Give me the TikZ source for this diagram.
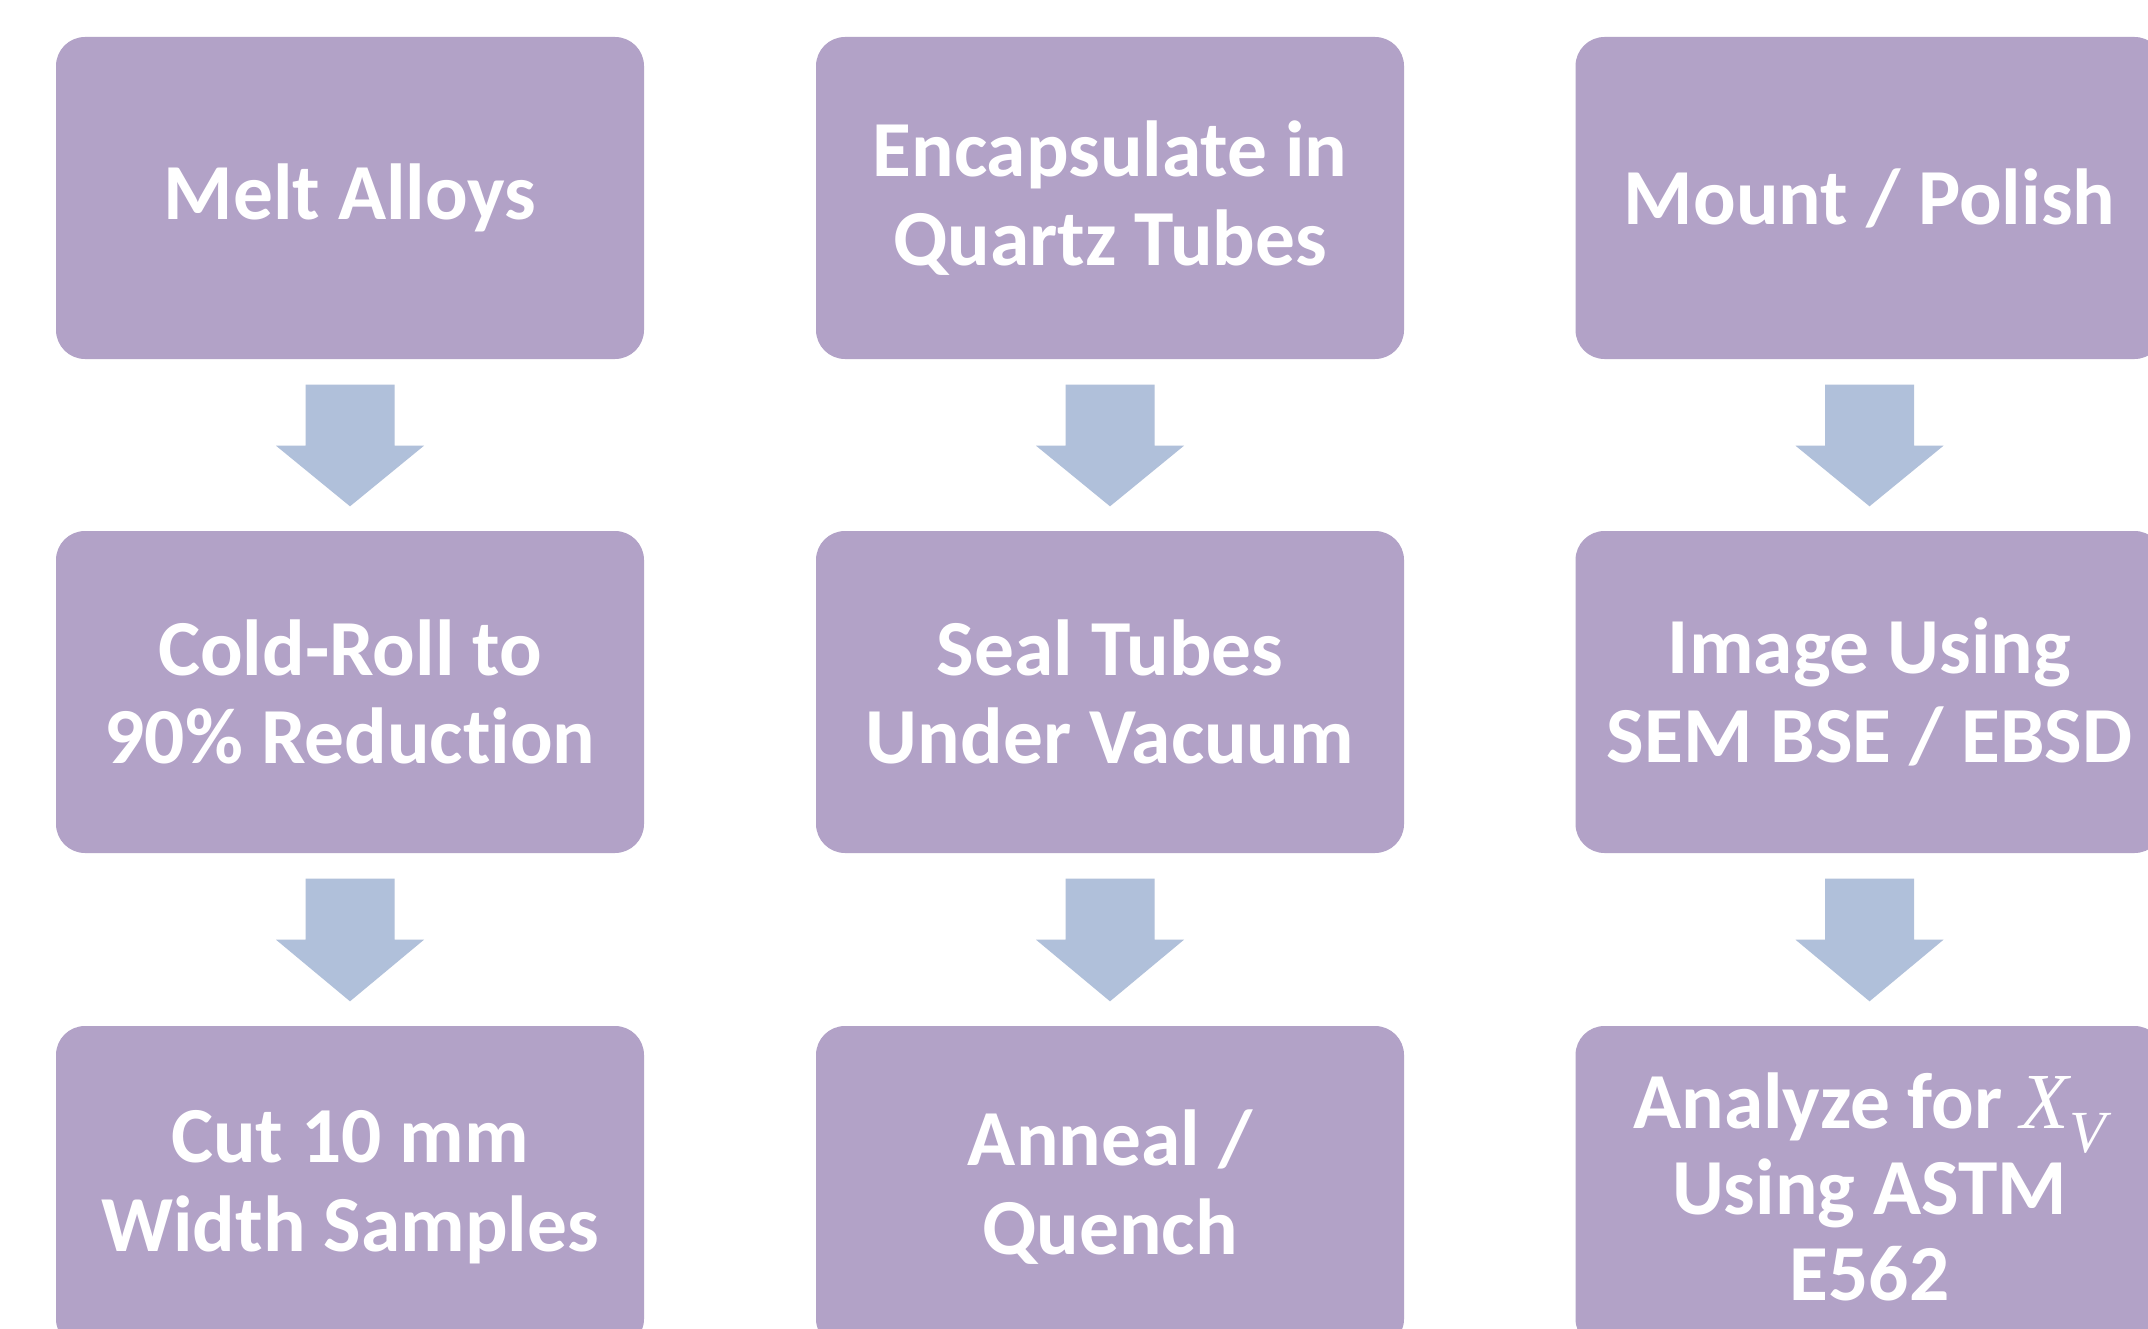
\documentclass[tikz,border=0pt]{standalone}
\usepackage{fontspec}
\setmainfont{Carlito}[RawFeature={-liga;-clig;-dlig;-calt}]
\newfontfamily\serifit{Liberation Serif}[ItalicFont={* Italic}]
\usetikzlibrary{calc}
\definecolor{boxpurple}{HTML}{B2A2C7}
\definecolor{arrowblue}{HTML}{B0C0DA}
\tikzset{
  stepbox/.style={rounded corners=0.29cm, fill=boxpurple, draw=none,
    minimum width=5.88cm, minimum height=3.22cm, inner sep=0pt,
    text=white, align=center, font=\fontsize{22.6}{25.2}\selectfont\bfseries},
  blockarrow/.style={fill=arrowblue, draw=none}
}
\newcommand{\downblock}[2]{%
  \fill[blockarrow] ($(#1.south)+(-0.445,-0.25)$) -- ($(#1.south)+(0.445,-0.25)$)
    -- ($(#1.south)+(0.445,-0.86)$) -- ($(#1.south)+(0.74,-0.86)$)
    -- ($(#2.north)+(0,0.24)$)
    -- ($(#1.south)+(-0.74,-0.86)$) -- ($(#1.south)+(-0.445,-0.86)$) -- cycle;}
\newcommand{\xv}{{\serifit\itshape\mdseries X}\raisebox{-0.3em}{\fontsize{17}{17}\selectfont\serifit\itshape\mdseries V}}
\begin{document}
\begin{tikzpicture}
\useasboundingbox (0,0) rectangle (21.48,-13.28);
\clip (0,0) rectangle (21.48,-13.28);
\fill[white] (0,0) rectangle (21.48,-13.28);
% column 1
\node[stepbox] (a1) at (3.50,-1.98) {Melt Alloys};
\node[stepbox] (a2) at (3.50,-6.92) {Cold-Roll to\\90\% Reduct\kern0pt ion};
\node[stepbox] (a3) at (3.50,-11.87) {Cut 10 mm\\Width Samples};
% column 2
\node[stepbox] (b1) at (11.10,-1.98) {Encapsulate in\\Quartz Tubes};
\node[stepbox] (b2) at (11.10,-6.92) {Seal Tubes\\Under Vacuum};
\node[stepbox] (b3) at (11.10,-11.87) {Anneal /\\Quench};
% column 3
\node[stepbox] (c1) at (18.695,-1.98) {Mount / Polish};
\node[stepbox] (c2) at (18.695,-6.92) {Image Using\\SEM BSE / EBSD};
\node[stepbox, font=\fontsize{22.6}{24.4}\selectfont\bfseries] (c3) at (18.695,-11.87) {Analyze for \xv\\Using ASTM\\E562};
% arrows
\downblock{a1}{a2}
\downblock{a2}{a3}
\downblock{b1}{b2}
\downblock{b2}{b3}
\downblock{c1}{c2}
\downblock{c2}{c3}
\end{tikzpicture}
\end{document}
